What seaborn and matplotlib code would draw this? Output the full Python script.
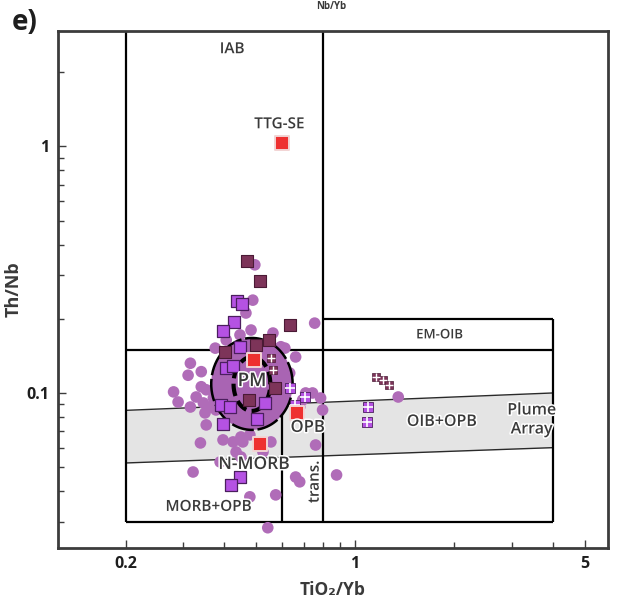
import numpy as np
import matplotlib
matplotlib.use("Agg")
import matplotlib.pyplot as plt
import matplotlib.patheffects as pe
from matplotlib.ticker import FixedLocator, FixedFormatter, NullFormatter
import seaborn as sns

sns.set_theme(style="ticks")
plt.rcParams["font.family"] = ["Open Sans", "DejaVu Sans"]

# ---- sample analyses (TiO2/Yb, Th/Nb) ----
round_tio2_yb = [0.495, 0.488, 0.465, 0.482, 0.753, 0.562, 0.446, 0.405, 0.375, 0.611,
                 0.659, 0.315, 0.310, 0.340, 0.340, 0.328, 0.370, 0.785, 0.742, 0.678,
                 0.796, 0.280, 0.289, 0.352, 0.315, 0.345, 0.362, 0.377, 0.594, 0.707,
                 0.692, 0.349, 0.352, 0.338, 0.396, 0.425, 0.449, 0.478, 0.554, 0.434,
                 0.524, 0.321, 0.388, 0.449, 0.659, 0.878, 0.758, 0.478, 0.573, 0.542,
                 1.353, 0.455, 0.678, 0.425, 0.524, 0.472, 0.562, 0.410, 0.506, 0.581,
                 0.455, 0.632]
round_th_nb = [0.331, 0.238, 0.211, 0.180, 0.192, 0.175, 0.172, 0.164, 0.152, 0.152,
               0.140, 0.132, 0.118, 0.122, 0.106, 0.0963, 0.0954, 0.0954, 0.100, 0.0877,
               0.0853, 0.101, 0.0919, 0.103, 0.0877, 0.0911, 0.0877, 0.0853, 0.154, 0.100,
               0.0937, 0.0830, 0.0742, 0.0627, 0.0645, 0.0633, 0.0663, 0.0676, 0.0633, 0.0576,
               0.0576, 0.0478, 0.0525, 0.0550, 0.0456, 0.0465, 0.0615, 0.0379, 0.0386, 0.0284,
               0.0963, 0.0633, 0.0436, 0.113, 0.0981, 0.0777, 0.0853, 0.0814, 0.124, 0.136,
               0.149, 0.1205]

violet_tio2_yb = [0.437, 0.452, 0.428, 0.396, 0.446, 0.405, 0.425, 0.531, 0.391, 0.416,
                  0.396, 0.502, 0.446, 0.419]
violet_th_nb = [0.236, 0.230, 0.194, 0.178, 0.154, 0.126, 0.129, 0.0911, 0.0894, 0.0877,
                0.0749, 0.0784, 0.0456, 0.0424]

maroon_tio2_yb = [0.468, 0.513, 0.632, 0.546, 0.499, 0.570, 0.475, 0.402]
maroon_th_nb = [0.343, 0.285, 0.189, 0.164, 0.157, 0.105, 0.0937, 0.147]

violet_cross_tio2_yb = [0.632, 0.702, 0.655, 1.097, 1.090]
violet_cross_th_nb = [0.1048, 0.0963, 0.0894, 0.0877, 0.0763]

maroon_cross_tio2_yb = [1.160, 1.218, 1.270, 0.562, 0.554]
maroon_cross_th_nb = [0.1161, 0.113, 0.1078, 0.124, 0.1387]

# reference compositions
ref_names = ["TTG-SE", "PM", "N-MORB", "OPB"]
ref_tio2_yb = [0.60, 0.492, 0.513, 0.664]
ref_th_nb = [1.03, 0.136, 0.0621, 0.0830]
ref_label_offset_px = [(-3, 19), (-2, -21), (-6, -21), (11, -15)]

# ---- discrimination field boundaries ----
field_x = [0.2, 0.6, 0.8, 4.0]
field_y = [0.03, 0.15, 0.2]
plume_x = [0.2, 4.0]
plume_upper = [0.085, 0.10]
plume_lower = [0.052, 0.060]

# PM envelope ellipses (log10 centre and half-axes in decades)
ellipse_centre = (np.log10(0.485), np.log10(0.1088))
ellipse_outer = (0.124, 0.1865)
ellipse_inner = (0.056, 0.1095)

x_limits = (0.1245, 5.89)
y_limits = (0.0235, 2.94)

circle_col = "#b06cb8"
violet_col = "#b552e3"
maroon_col = "#7d3459"
red_col = "#ee3030"
text_col = "#3a3a3a"
frame_col = "#3c3c3c"

fig = plt.figure(figsize=(6.21, 6.02), dpi=100)
ax = fig.add_axes([58 / 621, 1 - 548 / 602, 550 / 621, 517 / 602])
ax.set_xscale("log")
ax.set_yscale("log")
ax.set_xlim(*x_limits)
ax.set_ylim(*y_limits)
ax.set_facecolor("white")

# plume array band
ax.fill_between(plume_x, plume_lower, plume_upper, color="#e4e4e4", lw=0, zorder=0.5)
ax.plot(plume_x, plume_upper, color="#2a2a2a", lw=1.0, zorder=1)
ax.plot(plume_x, plume_lower, color="#2a2a2a", lw=1.0, zorder=1)

# field boxes
x02, x06, x08, x4 = field_x
y003, y015, y02 = field_y
top = y_limits[1]
lw_box = 1.6
ax.vlines(x02, y003, top, color="black", lw=lw_box, zorder=1)
ax.vlines(x08, y003, top, color="black", lw=lw_box, zorder=1)
ax.vlines(x4, y003, y02, color="black", lw=lw_box, zorder=1)
ax.hlines(y003, x02, x4, color="black", lw=lw_box, zorder=1)
ax.hlines(y015, x02, x4, color="black", lw=lw_box, zorder=1)
ax.hlines(y02, x08, x4, color="black", lw=lw_box, zorder=1)
trans_top = 10 ** np.interp(np.log10(x06), np.log10(plume_x), np.log10(plume_upper))
ax.vlines(x06, y003, trans_top, color="black", lw=lw_box, zorder=1)

# samples
sns.scatterplot(x=round_tio2_yb, y=round_th_nb, ax=ax, marker="o", s=70,
                color=circle_col, edgecolor="none", linewidth=0, zorder=2)

# PM envelope
t = np.linspace(0, 2 * np.pi, 300)
ox = 10 ** (ellipse_centre[0] + ellipse_outer[0] * np.cos(t))
oy = 10 ** (ellipse_centre[1] + ellipse_outer[1] * np.sin(t))
ix = 10 ** (ellipse_centre[0] + ellipse_inner[0] * np.cos(t))
iy = 10 ** (ellipse_centre[1] + ellipse_inner[1] * np.sin(t))
ax.fill(ox, oy, color="#a964b3", zorder=2.5, lw=0)
ax.plot(ox, oy, color="black", lw=1.8, ls=(0, (9, 1.5)), zorder=3)
ax.plot(ix, iy, color="black", lw=3.0, ls=(0, (3, 1.3)), zorder=3)

sns.scatterplot(x=violet_tio2_yb, y=violet_th_nb, ax=ax, marker="s", s=66,
                color=violet_col, edgecolor="#4b1f5e", linewidth=0.9, zorder=4)
sns.scatterplot(x=maroon_tio2_yb, y=maroon_th_nb, ax=ax, marker="s", s=66,
                color=maroon_col, edgecolor="#4a1a35", linewidth=0.8, zorder=4)
sns.scatterplot(x=violet_cross_tio2_yb, y=violet_cross_th_nb, ax=ax, marker="s", s=52,
                color=violet_col, edgecolor="#4b1f5e", linewidth=0.6, zorder=4)
ax.scatter(violet_cross_tio2_yb, violet_cross_th_nb, marker="+", s=52,
           color="white", linewidths=1.2, zorder=4.1)
sns.scatterplot(x=maroon_cross_tio2_yb, y=maroon_cross_th_nb, ax=ax, marker="s", s=34,
                color=maroon_col, edgecolor="#4a1a35", linewidth=0.5, zorder=4)
ax.scatter(maroon_cross_tio2_yb, maroon_cross_th_nb, marker="+", s=34,
           color="white", linewidths=1.0, zorder=4.1)

sns.scatterplot(x=ref_tio2_yb, y=ref_th_nb, ax=ax, marker="s", s=100,
                color=red_col, edgecolor="#f2d4d4", linewidth=1.4, zorder=5)

halo = [pe.withStroke(linewidth=2.2, foreground="white")]
ref_sizes = [11, 13.5, 12.5, 12]
for name, xv, yv, off, fs in zip(ref_names, ref_tio2_yb, ref_th_nb,
                                 ref_label_offset_px, ref_sizes):
    ax.annotate(name, (xv, yv), xytext=off, textcoords="offset pixels",
                ha="center", va="center", fontsize=fs, fontweight="semibold",
                color=text_col, zorder=6, path_effects=halo)

field_labels = [
    ("IAB", 0.422, 2.48, 11, 0),
    ("EM-OIB", 1.81, 0.172, 9.5, 0),
    ("MORB+OPB", 0.357, 0.0345, 11, 0),
    ("trans.", 0.753, 0.0436, 11, 90),
    ("OIB+OPB", 1.84, 0.0763, 11.5, 0),
    ("Plume\nArray", 3.45, 0.0777, 11.5, 0),
]
for txt, xv, yv, fs, rot in field_labels:
    ax.text(xv, yv, txt, ha="center", va="center", fontsize=fs, rotation=rot,
            fontweight="semibold", color=text_col, zorder=6, linespacing=1.25,
            path_effects=halo)

# axes, ticks, frame
ax.xaxis.set_major_locator(FixedLocator([0.2, 1, 5]))
ax.xaxis.set_major_formatter(FixedFormatter(["0.2", "1", "5"]))
ax.xaxis.set_minor_locator(FixedLocator([0.3, 0.4, 0.5, 0.6, 0.7, 0.8, 0.9, 2, 3, 4]))
ax.xaxis.set_minor_formatter(NullFormatter())
ax.yaxis.set_major_locator(FixedLocator([0.1, 1]))
ax.yaxis.set_major_formatter(FixedFormatter(["0.1", "1"]))
ax.yaxis.set_minor_locator(FixedLocator([0.03, 0.04, 0.05, 0.06, 0.07, 0.08, 0.09,
                                         0.2, 0.3, 0.4, 0.5, 0.6, 0.7, 0.8, 0.9, 2]))
ax.yaxis.set_minor_formatter(NullFormatter())
ax.tick_params(which="both", direction="in", color=frame_col, width=1.0,
               top=False, right=False)
ax.tick_params(which="major", length=6, labelsize=11.5, pad=6)
ax.tick_params(which="minor", length=4)
for lab in ax.get_xticklabels() + ax.get_yticklabels():
    lab.set_fontweight("bold")
    lab.set_color("#1e1e1e")
for sp in ax.spines.values():
    sp.set_visible(True)
    sp.set_color(frame_col)
    sp.set_linewidth(2.0)

ax.set_xlabel("TiO₂/Yb", fontsize=12.5, fontweight="bold", color=text_col, labelpad=6)
ax.set_ylabel("Th/Nb", fontsize=13, fontweight="bold", color=text_col)
ax.yaxis.set_label_coords(-35 / 550, 0.5)

fig.text(12 / 621, 1 - 23 / 602, "e)", fontsize=20, fontweight="bold",
         color="#1e1e1e", ha="left", va="center")
fig.text(331 / 621, 1 - 1 / 602, "Nb/Yb", fontsize=7, fontweight="bold",
         color=text_col, ha="center", va="top")

fig.savefig("out.png", dpi=100, facecolor="white")
